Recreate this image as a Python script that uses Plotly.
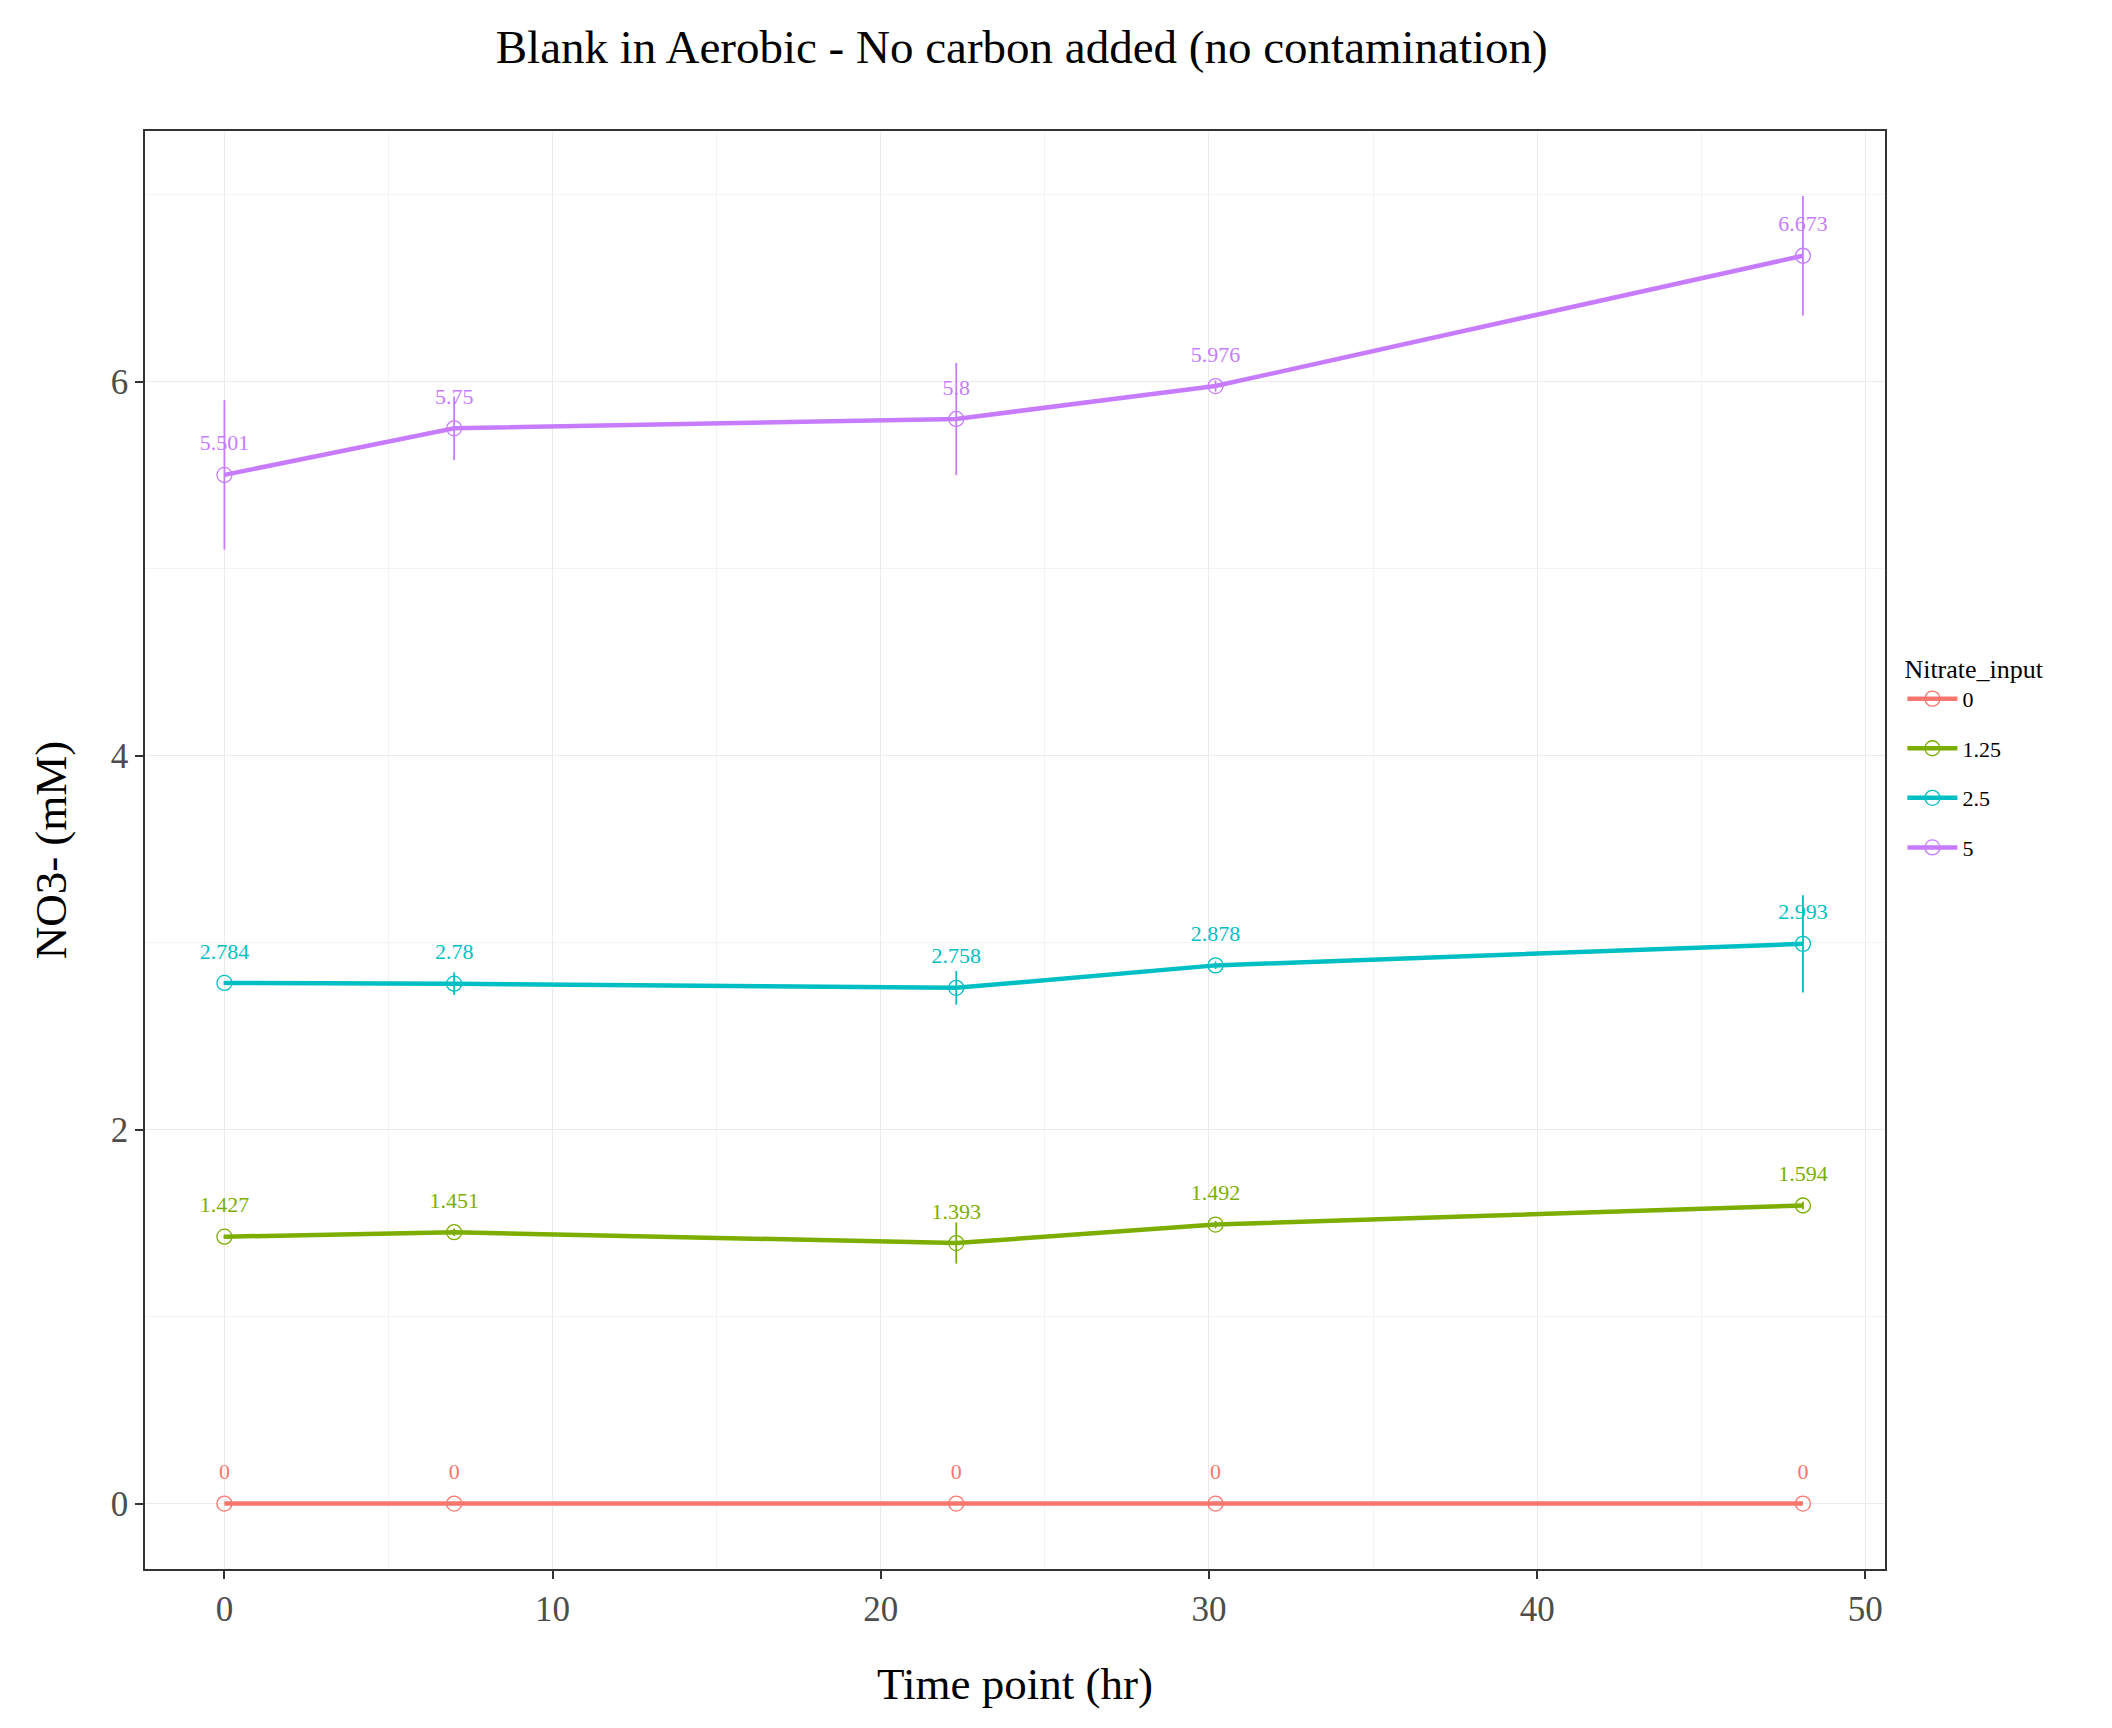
import plotly.graph_objects as go

time_hr = [0, 7, 22.3, 30.2, 48.1]
groups = ["0", "1.25", "2.5", "5"]
colors = ["#F8766D", "#7CAE00", "#00BFC4", "#C77CFF"]
no3 = {
    "0": [0, 0, 0, 0, 0],
    "1.25": [1.427, 1.451, 1.393, 1.492, 1.594],
    "2.5": [2.784, 2.78, 2.758, 2.878, 2.993],
    "5": [5.501, 5.75, 5.8, 5.976, 6.673],
}
err = {
    "0": [0, 0, 0, 0, 0],
    "1.25": [0.01, 0.02, 0.11, 0.02, 0.02],
    "2.5": [0.01, 0.06, 0.09, 0.02, 0.26],
    "5": [0.4, 0.17, 0.3, 0.03, 0.32],
}
font = "Liberation Serif"

fig = go.Figure()
for g, c in zip(groups, colors):
    fig.add_trace(go.Scatter(
        x=time_hr, y=no3[g], name=g, mode="lines+markers", legendgroup=g,
        line=dict(color=c, width=4.5),
        marker=dict(symbol="circle-open", size=15, color=c, line=dict(width=1.3)),
        error_y=dict(type="data", array=err[g], color=c, thickness=1.8, width=0),
    ))
    fig.add_trace(go.Scatter(
        x=time_hr, y=[v + 0.16 for v in no3[g]], mode="text",
        text=[f"{v:g}" for v in no3[g]], textfont=dict(color=c, size=22, family=font),
        showlegend=False, hoverinfo="skip", legendgroup=g,
    ))

axis = dict(showline=True, mirror=True, linecolor="#333", linewidth=1.5,
            gridcolor="#EBEBEB", zeroline=False, ticks="outside", ticklen=8,
            tickcolor="#333", tickwidth=2, tickfont=dict(size=35, color="#4D4D4D"),
            minor=dict(showgrid=True, gridcolor="#F3F3F3"))
fig.update_layout(
    width=2112, height=1728, plot_bgcolor="white", paper_bgcolor="white",
    font=dict(family=font, color="black"),
    title=dict(text="Blank in Aerobic - No carbon added (no contamination)",
               x=0.48, xanchor="center", y=0.987, font=dict(size=47)),
    margin=dict(l=137, r=235, t=123, b=167),
    legend=dict(title=dict(text="Nitrate_input", font=dict(size=26)),
                font=dict(size=22), x=1.01, y=0.565, yanchor="middle",
                tracegroupgap=18, itemwidth=50),
    xaxis=dict(axis, range=[-2.42, 50.6], dtick=10,
               title=dict(text="Time point (hr)", font=dict(size=45), standoff=40)),
    yaxis=dict(axis, range=[-0.35, 7.34], dtick=2,
               title=dict(text="NO3- (mM)", font=dict(size=45), standoff=30)),
)
fig.update_xaxes(minor=dict(dtick=5))
fig.update_yaxes(minor=dict(dtick=1))
fig.write_html("out.html")
